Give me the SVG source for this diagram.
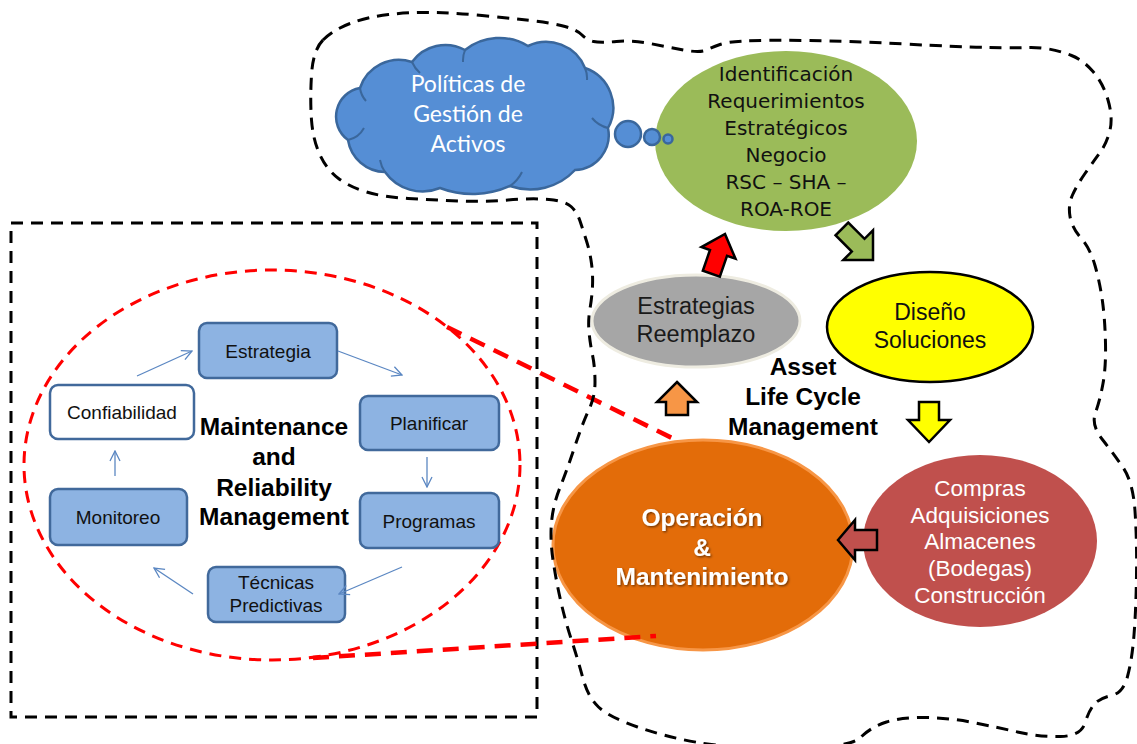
<svg xmlns="http://www.w3.org/2000/svg" width="1137" height="744" viewBox="0 0 1137 744">
<defs>
<style>
.t{font-family:"Liberation Sans",Arial,sans-serif;text-anchor:middle;dominant-baseline:central}
.dj{font-family:"DejaVu Sans","Liberation Sans",sans-serif}
.b{font-weight:bold}
.box{fill:#8DB3E2;stroke:#41699B;stroke-width:2.5}
.sm{font-size:19px;fill:#111}
.blk{fill:none;stroke:#000;stroke-width:3;stroke-dasharray:12 8}
.red{fill:none;stroke:#FF0000;stroke-width:3;stroke-dasharray:12 8}
.redth{fill:none;stroke:#FF0000;stroke-width:4.5;stroke-dasharray:16 10}
.con{fill:none;stroke:#5B87C2;stroke-width:1.3;marker-end:url(#ah)}
.barrow{stroke:#000;stroke-width:2.5;stroke-linejoin:miter}
.cl{fill:#558ED5;stroke:#3A679C;stroke-width:2.5}
</style>
<marker id="ah" viewBox="0 0 12 12" refX="11" refY="6" markerWidth="12" markerHeight="12" markerUnits="userSpaceOnUse" orient="auto">
<path d="M1,1 L11,6 L1,11" fill="none" stroke="#5B87C2" stroke-width="1.3"/>
</marker>
<filter id="sh" x="-10%" y="-10%" width="120%" height="130%">
<feDropShadow dx="1.2" dy="1.2" stdDeviation="0.8" flood-color="#000" flood-opacity="0.55"/>
</filter>
</defs>
<rect width="1137" height="744" fill="#fff"/>

<g id="identificacion">
<ellipse cx="786" cy="141" rx="131" ry="90" fill="#9BBB59"/>
<g font-size="20" fill="#111">
<text class="t dj" x="786" y="74">Identificación</text>
<text class="t dj" x="786" y="101">Requerimientos</text>
<text class="t dj" x="786" y="128">Estratégicos</text>
<text class="t dj" x="786" y="155">Negocio</text>
<text class="t dj" x="786" y="182">RSC – SHA –</text>
<text class="t dj" x="786" y="209">ROA-ROE</text>
</g>
</g>

<g id="cloud">
<path class="cl" d="M348,140 A29,29 0 0 1 360,88 A41,41 0 0 1 412,62 A41,41 0 0 1 465,50 A55,55 0 0 1 528,46 A42,42 0 0 1 585,68 A42,42 0 0 1 608,128 A35,35 0 0 1 575,170 A61,61 0 0 1 510,186 A91,91 0 0 1 440,188 A46,46 0 0 1 385,172 A38,38 0 0 1 348,140 Z"/>
<path d="M360,88 A24,24 0 0 0 366,101 M412,62 A30,30 0 0 0 420,73 M465,50 A28,28 0 0 0 463,62 M585,68 A26,26 0 0 1 587,80 M608,128 A30,30 0 0 1 592,118 M510,186 A36,36 0 0 0 522,172 M385,172 A30,30 0 0 1 380,160 M348,140 A24,24 0 0 0 364,128" fill="none" stroke="#3A679C" stroke-width="2"/>
<circle class="cl" cx="628" cy="134" r="13"/>
<circle class="cl" cx="652" cy="137" r="8"/>
<circle class="cl" cx="668" cy="139" r="4.5" stroke-width="2"/>
<g font-family="Lato,'Open Sans',sans-serif" font-size="23" fill="#fff" text-anchor="middle" dominant-baseline="central">
<text x="468" y="83">Políticas de</text>
<text x="468" y="113">Gestión de</text>
<text x="468" y="143">Activos</text>
</g>
</g>

<g id="estrategias">
<ellipse cx="696" cy="321" rx="104" ry="46" fill="#A6A6A6" stroke="#EEECE1" stroke-width="3"/>
<text class="t" x="696" y="306" font-size="23.5" fill="#1a1a1a">Estrategias</text>
<text class="t" x="696" y="334" font-size="23.5" fill="#1a1a1a">Reemplazo</text>
</g>

<g id="diseno">
<ellipse cx="930" cy="327" rx="103" ry="55" fill="#FFFF00" stroke="#000" stroke-width="2.5"/>
<text class="t" x="930" y="312" font-size="23" fill="#111">Diseño</text>
<text class="t" x="930" y="340" font-size="23" fill="#111">Soluciones</text>
</g>

<g id="compras">
<ellipse cx="980" cy="541" rx="117" ry="86" fill="#C0504D"/>
<g font-size="22.5" fill="#fff">
<text class="t" x="980" y="488">Compras</text>
<text class="t" x="980" y="515">Adquisiciones</text>
<text class="t" x="980" y="541">Almacenes</text>
<text class="t" x="980" y="568">(Bodegas)</text>
<text class="t" x="980" y="595">Construcción</text>
</g>
</g>

<g id="operacion">
<ellipse cx="703" cy="545" rx="150" ry="105" fill="#E36C09" stroke="#F79646" stroke-width="3"/>
<g font-size="24.5" fill="#fff" filter="url(#sh)">
<text class="t b" x="702" y="517">Operación</text>
<text class="t b" x="702" y="547">&amp;</text>
<text class="t b" x="702" y="576">Mantenimiento</text>
</g>
</g>

<g id="alcm-label" font-size="24.5" fill="#000">
<text class="t b" x="803" y="366">Asset</text>
<text class="t b" x="803" y="396">Life Cycle</text>
<text class="t b" x="803" y="426">Management</text>
</g>

<g id="block-arrows">
<polygon class="barrow" fill="#FF0000" transform="translate(725,234) rotate(19)" points="0,0 18,20 9,20 9,42 -9,42 -9,20 -18,20"/>
<polygon class="barrow" fill="#9BBB59" transform="translate(873,260) rotate(135)" points="0,0 21,21 9,21 9,44 -9,44 -9,21 -21,21"/>
<polygon class="barrow" fill="#FFFF00" transform="translate(929,442) rotate(180)" points="0,0 21,22 10,22 10,40 -10,40 -10,22 -21,22"/>
<polygon class="barrow" fill="#C0504D" transform="translate(838,540) rotate(-90)" points="0,0 20,17 10,17 10,39 -10,39 -10,17 -20,17"/>
<polygon class="barrow" fill="#F79646" transform="translate(677,382)" points="0,0 20,20 11,20 11,33 -11,33 -11,20 -20,20"/>
</g>

<g id="mrm-frame">
<rect x="11" y="223" width="526" height="494" class="blk"/>
<ellipse cx="272" cy="465" rx="248" ry="195" class="red"/>
</g>

<g id="estrategia">
<rect x="199" y="323" width="138" height="55" rx="8" class="box"/>
<text class="t sm" x="268" y="351">Estrategia</text>
</g>
<g id="planificar">
<rect x="360" y="396" width="139" height="54" rx="8" class="box"/>
<text class="t sm" x="429" y="423">Planificar</text>
</g>
<g id="programas">
<rect x="360" y="493" width="139" height="55" rx="8" class="box"/>
<text class="t sm" x="429" y="521">Programas</text>
</g>
<g id="tecnicas">
<rect x="208" y="567" width="137" height="55" rx="8" class="box"/>
<text class="t sm" x="276" y="582">Técnicas</text>
<text class="t sm" x="276" y="605">Predictivas</text>
</g>
<g id="monitoreo">
<rect x="50" y="489" width="137" height="56" rx="8" class="box"/>
<text class="t sm" x="118" y="517">Monitoreo</text>
</g>
<g id="confiabilidad">
<rect x="50" y="385" width="144" height="54" rx="8" fill="#fff" stroke="#41699B" stroke-width="2.5"/>
<text class="t sm" x="122" y="412">Confiabilidad</text>
</g>
<g id="mrm-label" font-size="24.5" fill="#000">
<text class="t b" x="274" y="426">Maintenance</text>
<text class="t b" x="274" y="456">and</text>
<text class="t b" x="274" y="487">Reliability</text>
<text class="t b" x="274" y="516">Management</text>
</g>

<g id="connectors">
<line class="con" x1="137" y1="376" x2="192" y2="351"/>
<line class="con" x1="338" y1="351" x2="402" y2="375"/>
<line class="con" x1="427" y1="457" x2="427" y2="487"/>
<line class="con" x1="402" y1="567" x2="339" y2="594"/>
<line class="con" x1="193" y1="594" x2="154" y2="568"/>
<line class="con" x1="115" y1="476" x2="115" y2="451"/>
<line class="redth" x1="447" y1="327" x2="676" y2="440"/>
<line class="redth" x1="313" y1="658" x2="656" y2="636"/>
<path class="blk" d="M323,40 Q333,30 350,23.5 Q367,17 388.5,14.5 Q410,12 433.5,12.5 Q457,13 482,15.5 Q507,18 530,20.5 Q553,23 565,26.5 Q577,30 582,35 Q587,40 593.5,41.5 Q600,43 616.5,41.5 Q633,40 650,43.5 Q667,47 683.5,50 Q700,53 706.5,50 Q713,47 720,44.5 Q727,42 743.5,41 Q760,40 805,40.5 Q850,41 905,44 Q960,47 988.5,47.5 Q1017,48 1027,47.5 Q1037,47 1048.5,49 Q1060,51 1071.5,55.5 Q1083,60 1093,71.5 Q1103,83 1108,100 Q1113,117 1110,130 Q1107,143 1100,152.5 Q1093,162 1085,173.5 Q1077,185 1072.5,195 Q1068,205 1070,216.5 Q1072,228 1081,238 Q1090,248 1095,265.5 Q1100,283 1102.5,301.5 Q1105,320 1105.5,343.5 Q1106,367 1103,383.5 Q1100,400 1095.5,412.5 Q1091,425 1102,439 Q1113,453 1123,467.5 Q1133,482 1135,511 Q1137,540 1136.5,575 Q1136,610 1134,635 Q1132,660 1127.5,676.5 Q1123,693 1111.5,695.5 Q1100,698 1094.5,704 Q1089,710 1085,723 Q1081,736 1060.5,736.5 Q1040,737 1020,732.5 Q1000,728 975.5,723 Q951,718 926.5,717.5 Q902,717 886.5,722 Q871,727 860.5,737.5 Q850,748 790,748 Q730,748 698,742.5 Q666,737 637.5,727 Q609,717 598.5,707 Q588,697 583,678.5 Q578,660 571.5,640 Q565,620 560.5,600 Q556,580 553,560 Q550,540 551.5,522.5 Q553,505 560,487.5 Q567,470 575,446 Q583,422 589,409.5 Q595,397 595,382 Q595,367 592.5,355 Q590,343 589,331.5 Q588,320 590,308.5 Q592,297 592.5,286 Q593,275 591.5,263.5 Q590,252 586.5,241 Q583,230 580,221 Q577,212 571,206.5 Q565,201 549,199.5 Q533,198 508,200 Q483,202 458,201 Q433,200 408,198.5 Q383,197 366.5,192 Q350,187 338.5,178.5 Q327,170 320,155 Q313,140 311.5,120 Q310,100 311.5,75 Q313,50 323,40 Z"/>
</g>
</svg>
